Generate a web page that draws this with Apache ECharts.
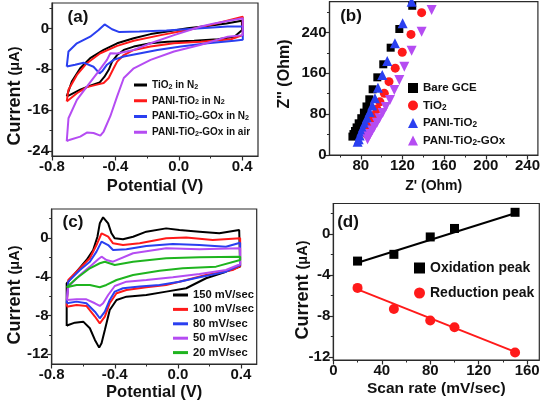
<!DOCTYPE html>
<html><head><meta charset="utf-8">
<script src="https://cdn.jsdelivr.net/npm/echarts@6/dist/echarts.min.js"></script>
<style>html,body{margin:0;padding:0;background:#fff}#c{width:543px;height:409px}</style>
</head><body><div id="c"></div>
<script>
// ---------- Panel (a): CV curves ----------
const aNames = ['TiO2 in N2', 'PANI-TiO2 in N2', 'PANI-TiO2-GOx in N2', 'PANI-TiO2-GOx in air'];
const aTiO2 = [[-0.707,-13.3],[-0.675,-10.4],[-0.622,-7.8],[-0.559,-5.8],[-0.474,-4.2],[-0.389,-2.9],[-0.284,-1.9],[-0.178,-1.1],[-0.072,-0.6],[0.055,0.05],[0.18,0.5],[0.3,1.0],[0.398,1.5],[0.4,-0.3],[0.351,-1.6],[0.246,-2.1],[0.097,-2.4],[-0.072,-2.6],[-0.178,-2.9],[-0.284,-3.55],[-0.347,-4.2],[-0.389,-5.2],[-0.421,-6.5],[-0.442,-8.1],[-0.47,-9.5],[-0.5,-10.6],[-0.559,-11.2],[-0.622,-12],[-0.686,-13],[-0.707,-13.3]];
const aPANI = [[-0.707,-14.3],[-0.696,-12],[-0.643,-9.1],[-0.58,-6.8],[-0.495,-4.85],[-0.389,-3.4],[-0.284,-2.4],[-0.114,-1.3],[0.055,-0.3],[0.224,0.9],[0.404,2.3],[0.404,-1.3],[0.33,-2.1],[0.14,-2.6],[-0.03,-2.9],[-0.178,-3.55],[-0.284,-4.2],[-0.347,-5.2],[-0.389,-6.5],[-0.411,-7.8],[-0.442,-9.7],[-0.474,-10.7],[-0.516,-11],[-0.58,-11.5],[-0.643,-12.7],[-0.707,-14.3]];
const aGOxN2 = [[-0.707,-7.47],[-0.696,-4.5],[-0.643,-2.9],[-0.559,-1.6],[-0.506,-0.3],[-0.468,0.8],[-0.421,-0.15],[-0.375,-0.7],[-0.248,-0.6],[-0.078,-0.4],[0.14,0.05],[0.309,0.4],[0.404,0.4],[0.404,-2.2],[0.35,-2.4],[0.182,-2.9],[0.013,-3.55],[-0.135,-4.2],[-0.241,-4.85],[-0.347,-5.5],[-0.411,-6.15],[-0.453,-7.1],[-0.484,-8.4],[-0.5,-8.8],[-0.538,-7.5],[-0.601,-6.7],[-0.654,-7.1],[-0.707,-7.47]];
const aGOxAir = [[-0.707,-22.1],[-0.696,-17.6],[-0.643,-14],[-0.58,-11.4],[-0.516,-8.8],[-0.453,-6.15],[-0.432,-4.85],[-0.39,-4.9],[-0.284,-4.2],[-0.178,-2.9],[-0.03,-1.3],[0.14,0.4],[0.224,1.0],[0.351,1.7],[0.404,2.0],[0.404,-1.3],[0.309,-1.6],[0.14,-3.2],[-0.03,-4.5],[-0.178,-6.15],[-0.284,-7.8],[-0.347,-9.7],[-0.389,-13.3],[-0.432,-17.2],[-0.474,-20.2],[-0.495,-21],[-0.538,-20.5],[-0.58,-20.4],[-0.622,-21.2],[-0.686,-21.8],[-0.707,-22.1]];
const aXTicks = [-0.8, -0.4, 0.0, 0.4];
const aXMinor = [-0.6, -0.2, 0.2];
const aYTicks = [-24, -16, -8, 0];
const aYMinor = [-20, -12, -4, 4];

// ---------- Panel (b): Nyquist ----------
const bNames = ['Bare GCE', 'TiO2', 'PANI-TiO2', 'PANI-TiO2-GOx'];
const bBare = [[129.4,292],[117,246.6],[108.7,210],[101.6,177.5],[95.9,152],[91.4,128.6],[88.2,109],[85.5,95],[83,83],[80.5,72],[78,62],[76,54],[74.5,47],[73,41],[72,36]];
const bTiO2 = [[138.4,278.5],[128.2,236],[119.8,201],[113.1,170],[107.1,143.5],[102.6,120.7],[98.4,104],[95.5,90],[93,78],[91,68],[89.5,60],[88,52],[87,46],[86,40]];
const bPANI = [[128.8,300],[120.2,257.7],[112.8,218.6],[105.4,184],[100.6,156.6],[96.5,131.7],[93.6,111],[91,97],[88.5,84],[86,73],[84,63],[82,54],[80.5,46],[79,38],[78,31],[77,26]];
const bGOx = [[148,283.8],[138.4,241.3],[128.8,204],[121.8,172.8],[117,146.8],[112.2,127],[108,107.6],[104,94],[101,82],[98,72],[95.5,63],[93,55],[91,48],[89,41],[87.5,36],[86.5,31]];
const bXTicks = [80, 120, 160, 200, 240];
const bXMinor = [60, 100, 140, 180, 220];
const bYTicks = [0, 80, 160, 240];
const bYMinor = [40, 120, 200, 280];

// ---------- Panel (c): CV at scan rates ----------
const cNames = ['150 mV/sec', '100 mV/sec', '80 mV/sec', '50 mV/sec', '20 mV/sec'];
const c150 = [[-0.705,-9.07],[-0.705,-4.67],[-0.642,-3.47],[-0.579,-2.26],[-0.537,-1.23],[-0.51,0.14],[-0.495,1.52],[-0.474,2.14],[-0.442,1.52],[-0.421,0.49],[-0.4,-0.03],[-0.348,-0.13],[-0.284,0.14],[-0.2,0.66],[-0.074,1.0],[0.01,0.83],[0.137,0.66],[0.263,0.49],[0.389,0.83],[0.395,-2.95],[0.305,-3.47],[0.179,-4.15],[0.053,-5.18],[-0.074,-5.53],[-0.2,-5.88],[-0.326,-6.05],[-0.389,-6.39],[-0.432,-7.42],[-0.463,-9.49],[-0.484,-10.86],[-0.499,-11.31],[-0.526,-10.52],[-0.558,-9.31],[-0.6,-8.63],[-0.653,-8.73],[-0.695,-8.97],[-0.705,-9.07]];
const c100 = [[-0.705,-7.08],[-0.695,-4.33],[-0.621,-3.12],[-0.558,-2.09],[-0.516,-0.72],[-0.484,0.49],[-0.474,0.66],[-0.442,0.14],[-0.411,-0.54],[-0.348,-0.72],[-0.242,-0.54],[-0.074,-0.03],[0.053,0.07],[0.221,-0.2],[0.395,-0.03],[0.395,-2.9],[0.347,-3.3],[0.179,-3.8],[0.053,-4.33],[-0.074,-4.84],[-0.2,-5.08],[-0.326,-5.36],[-0.389,-5.7],[-0.432,-6.73],[-0.463,-8.11],[-0.495,-8.8],[-0.526,-8.1],[-0.58,-7.01],[-0.642,-6.9],[-0.705,-7.08]];
const c80 = [[-0.705,-6.73],[-0.695,-4.5],[-0.621,-3.3],[-0.558,-2.44],[-0.516,-1.4],[-0.484,-0.37],[-0.474,-0.2],[-0.442,-0.72],[-0.411,-1.23],[-0.326,-1.16],[-0.2,-0.82],[-0.032,-0.61],[0.137,-0.72],[0.305,-0.89],[0.395,-0.48],[0.395,-2.8],[0.305,-3.47],[0.137,-4.05],[0.01,-4.5],[-0.116,-4.84],[-0.242,-5.01],[-0.348,-5.18],[-0.4,-5.53],[-0.432,-6.39],[-0.463,-7.6],[-0.495,-8.28],[-0.526,-7.6],[-0.58,-6.73],[-0.642,-6.56],[-0.705,-6.73]];
const c50 = [[-0.705,-6.39],[-0.695,-5.02],[-0.621,-3.81],[-0.558,-2.95],[-0.505,-2.19],[-0.484,-1.92],[-0.453,-2.26],[-0.411,-2.44],[-0.284,-1.57],[-0.074,-1.06],[0.137,-1.16],[0.395,-1.06],[0.395,-2.7],[0.305,-3.3],[0.137,-3.71],[-0.032,-4.05],[-0.2,-4.33],[-0.326,-4.5],[-0.4,-4.95],[-0.442,-5.88],[-0.474,-6.73],[-0.495,-7.01],[-0.526,-6.73],[-0.58,-6.32],[-0.642,-6.32],[-0.705,-6.39]];
const c20 = [[-0.705,-5.08],[-0.642,-4.15],[-0.558,-3.12],[-0.495,-2.6],[-0.463,-2.44],[-0.4,-2.78],[-0.284,-2.44],[-0.074,-2.09],[0.137,-1.98],[0.395,-1.92],[0.395,-2.26],[0.242,-2.95],[0.031,-3.12],[-0.116,-3.37],[-0.284,-3.81],[-0.389,-4.33],[-0.453,-4.84],[-0.495,-5.08],[-0.558,-4.84],[-0.642,-4.84],[-0.705,-5.08]];
const cXTicks = [-0.8, -0.4, 0.0, 0.4];
const cXMinor = [-0.6, -0.2, 0.2];
const cYTicks = [-12, -8, -4, 0];
const cYMinor = [-10, -6, -2, 2];

// ---------- Panel (d): peak current vs scan rate ----------
const dNames = ['Oxidation peak', 'Reduction peak'];
const dRate = [20, 50, 80, 100, 150];
const dOx = [-2.63, -1.97, -0.27, 0.56, 2.14];
const dRed = [-5.25, -7.32, -8.44, -9.1, -11.56];
const dOxFit = [[20, -2.8], [150, 2.05]];
const dRedFit = [[20, -5.4], [150, -11.5]];
const dXTicks = [0, 40, 80, 120, 160];
const dXMinor = [20, 60, 100, 140];
const dYTicks = [-12, -8, -4, 0];
const dYMinor = [-10, -6, -2, 2];

// ---------- styling / layout ----------
const FONT = '"Liberation Sans", Arial, sans-serif';
const AX = '#2b2b2b';
const BLACK = '#000000', RED = '#ff1a1a', BLUE = '#2a3ff0', PURPLE = '#b54cf2', GREEN = '#1fb41f';

const grids = [
  {left: 52, top: 3, width: 206, height: 153},
  {left: 329.5, top: 1.7, width: 209, height: 153.3},
  {left: 51.7, top: 209, width: 205, height: 155},
  {left: 333.3, top: 203.5, width: 206, height: 156.5}
];

function fmtTick(ticks) {
  const dec = ticks.some(t => !Number.isInteger(t));
  return v => dec ? v.toFixed(1) : String(Math.round(v));
}
function xAxes(gi, min, max, ticks, minor, name, gap, nameSize) {
  return [{
    type: 'value', gridIndex: gi, min: min, max: max, position: 'bottom',
    axisLine: {show: true, onZero: false, lineStyle: {color: AX, width: 1.2}},
    axisTick: {show: true, customValues: ticks, length: 4.5, lineStyle: {color: AX, width: 1.2}},
    axisLabel: {customValues: ticks, fontFamily: FONT, fontWeight: 'bold', fontSize: 15, color: '#111', margin: 3, formatter: fmtTick(ticks)},
    splitLine: {show: false},
    name: name, nameLocation: 'middle', nameGap: gap,
    nameTextStyle: {fontFamily: FONT, fontWeight: 'bold', fontSize: nameSize, color: '#111'}
  }, {
    type: 'value', gridIndex: gi, min: min, max: max, position: 'bottom',
    axisLine: {show: false, onZero: false},
    axisTick: {show: true, customValues: minor, length: 2.5, lineStyle: {color: AX, width: 1}},
    axisLabel: {show: false}, splitLine: {show: false}
  }];
}
function yAxes(gi, min, max, ticks, minor) {
  return [{
    type: 'value', gridIndex: gi, min: min, max: max, position: 'left',
    axisLine: {show: true, onZero: false, lineStyle: {color: AX, width: 1.2}},
    axisTick: {show: true, customValues: ticks, length: 4.5, lineStyle: {color: AX, width: 1.2}},
    axisLabel: {customValues: ticks, fontFamily: FONT, fontWeight: 'bold', fontSize: 15, color: '#111', margin: 3, formatter: fmtTick(ticks)},
    splitLine: {show: false}
  }, {
    type: 'value', gridIndex: gi, min: min, max: max, position: 'left',
    axisLine: {show: false, onZero: false},
    axisTick: {show: true, customValues: minor, length: 2.5, lineStyle: {color: AX, width: 1}},
    axisLabel: {show: false}, splitLine: {show: false}
  }];
}

const xAxis = [].concat(
  xAxes(0, -0.8, 0.5, aXTicks, aXMinor, 'Potential (V)', 22, 16.5),
  xAxes(1, 50, 250, bXTicks, bXMinor, "Z' (Ohm)", 24, 14),
  xAxes(2, -0.8, 0.5, cXTicks, cXMinor, 'Potential (V)', 20, 16.5),
  xAxes(3, 0, 170, dXTicks, dXMinor, 'Scan rate (mV/sec)', 21, 15.5)
);
const yAxis = [].concat(
  yAxes(0, -25, 5, aYTicks, aYMinor),
  yAxes(1, 0, 300, bYTicks, bYMinor),
  yAxes(2, -13, 3, cYTicks, cYMinor),
  yAxes(3, -12.3, 3, dYTicks, dYMinor)
);

function lineSeries(name, data, color, gi) {
  return {type: 'line', name: name, data: data, xAxisIndex: gi * 2, yAxisIndex: gi * 2,
    showSymbol: false, symbol: 'none', lineStyle: {color: color, width: 2}, itemStyle: {color: color},
    animation: false, clip: true};
}
function scatterSeries(name, data, color, gi, symbol, size, rotate) {
  return {type: 'scatter', name: name, data: data, xAxisIndex: gi * 2, yAxisIndex: gi * 2,
    symbol: symbol, symbolSize: size, symbolRotate: rotate || 0, itemStyle: {color: color, opacity: 1},
    animation: false, clip: true};
}

const series = [
  lineSeries(aNames[0], aTiO2, BLACK, 0),
  lineSeries(aNames[1], aPANI, RED, 0),
  lineSeries(aNames[2], aGOxN2, BLUE, 0),
  lineSeries(aNames[3], aGOxAir, PURPLE, 0),
  scatterSeries(bNames[0], bBare, BLACK, 1, 'rect', 8),
  scatterSeries(bNames[1], bTiO2, RED, 1, 'circle', 9),
  scatterSeries(bNames[2], bPANI, BLUE, 1, 'triangle', 10),
  scatterSeries(bNames[3], bGOx, PURPLE, 1, 'triangle', 10, 180),
  lineSeries(cNames[0], c150, BLACK, 2),
  lineSeries(cNames[1], c100, RED, 2),
  lineSeries(cNames[2], c80, BLUE, 2),
  lineSeries(cNames[3], c50, PURPLE, 2),
  lineSeries(cNames[4], c20, GREEN, 2),
  lineSeries('oxfit', dOxFit, BLACK, 3),
  lineSeries('redfit', dRedFit, RED, 3),
  scatterSeries(dNames[0], dRate.map((r, i) => [r, dOx[i]]), BLACK, 3, 'rect', 9),
  scatterSeries(dNames[1], dRate.map((r, i) => [r, dRed[i]]), RED, 3, 'circle', 10)
];

const subFmt = n => n.replace(/([A-Za-z])2/g, '$1{s|2}');
function legend(names, left, top, gap, size, iconW, iconH, icon) {
  return {
    data: names.map(n => icon ? {name: n, icon: icon} : {name: n}),
    orient: 'vertical', left: left, top: top, itemGap: gap, itemWidth: iconW, itemHeight: iconH,
    padding: 0, selectedMode: false,
    formatter: subFmt,
    textStyle: {fontFamily: FONT, fontWeight: 'bold', fontSize: size, color: '#111',
      rich: {s: {fontFamily: FONT, fontWeight: 'bold', fontSize: size * 0.72, verticalAlign: 'bottom', padding: [size * 0.35, 0, 0, 0], color: '#111'}}}
  };
}

const yTitle = (x, y) => ({
  type: 'text', x: x, y: y, rotation: Math.PI / 2,
  style: {text: '{a|Current }{b|(\u03bcA)}', textAlign: 'center', textVerticalAlign: 'middle',
    rich: {a: {fontFamily: FONT, fontWeight: 'bold', fontSize: 18, fill: '#111'},
           b: {fontFamily: FONT, fontWeight: 'bold', fontSize: 14.5, fill: '#111'}}}
});
const panelLabel = (t, x, y) => ({type: 'text', x: x, y: y,
  style: {text: t, fontFamily: FONT, fontWeight: 'bold', fontSize: 17, fill: '#111', textAlign: 'center', textVerticalAlign: 'middle'}});

const option = {
  animation: false,
  backgroundColor: '#ffffff',
  grid: grids.map(g => Object.assign({show: true, borderColor: AX, borderWidth: 1.2, backgroundColor: 'transparent', containLabel: false}, g)),
  xAxis: xAxis,
  yAxis: yAxis,
  series: series,
  legend: [
    legend(aNames, 134, 80, 5.5, 10, 13, 3, 'rect'),
    legend(bNames, 408, 82, 5.5, 11.5, 10, 10),
    legend(cNames, 173, 289.5, 3.4, 11.2, 15, 3, 'rect'),
    legend(dNames, 414, 261, 11, 14, 11, 11)
  ],
  graphic: [
    yTitle(15, 96), yTitle(15, 295), yTitle(303, 290),
    {type: 'text', x: 285, y: 74, rotation: Math.PI / 2,
     style: {text: "Z'' (Ohm)", fontFamily: FONT, fontWeight: 'bold', fontSize: 16, fill: '#111', textAlign: 'center', textVerticalAlign: 'middle'}},
    panelLabel('(a)', 78, 17.5), panelLabel('(b)', 351, 16.7), panelLabel('(c)', 73, 222.5), panelLabel('(d)', 348, 222.5)
  ]
};
const chart = echarts.init(document.getElementById('c'), null, {renderer: 'canvas'});
chart.setOption(option);
</script></body></html>
